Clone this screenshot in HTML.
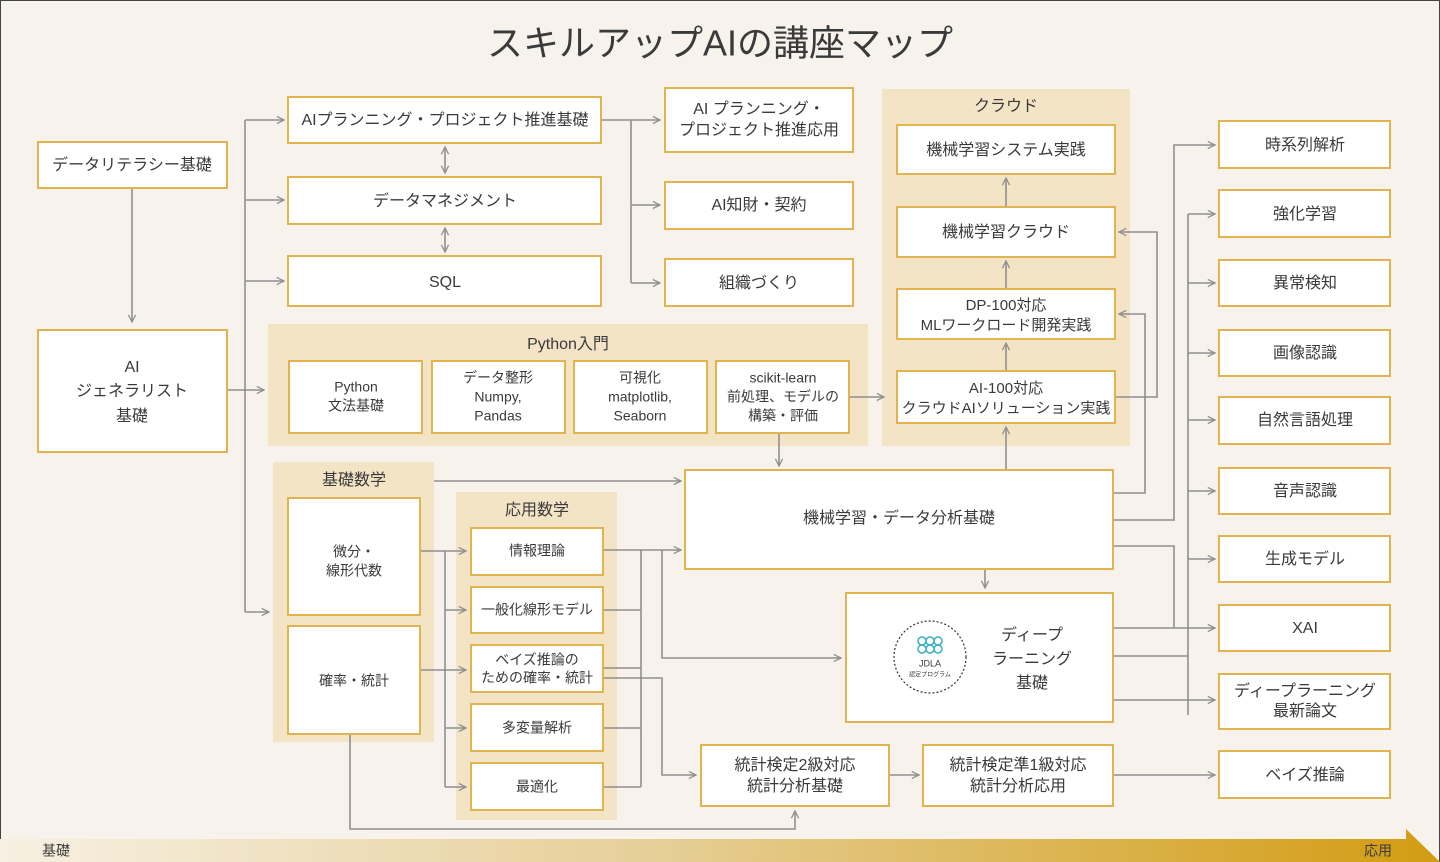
<!DOCTYPE html>
<html><head><meta charset="utf-8"><style>
html,body{margin:0;padding:0;background:#f7f3ec}
svg{display:block}
text{font-family:"Liberation Sans","Noto Sans CJK JP",sans-serif;fill:#3a3a3a;text-anchor:middle;dominant-baseline:middle}
.b{fill:#fff;stroke:#e2b450;stroke-width:2}
.p{fill:#f4e4c6}
.l{fill:none;stroke:#8f8f8f;stroke-width:1.6}
</style></head><body>
<svg width="1440" height="862" viewBox="0 0 1440 862" xmlns="http://www.w3.org/2000/svg">
<defs>
<marker id="m" viewBox="0 0 10 10" refX="9" refY="5" markerWidth="9" markerHeight="9" orient="auto-start-reverse" markerUnits="userSpaceOnUse">
<path d="M1,1 L9,5 L1,9" fill="none" stroke="#8f8f8f" stroke-width="1.4"/></marker>
<linearGradient id="g" x1="0" x2="1"><stop offset="0" stop-color="#f7f0e2"/><stop offset="0.45" stop-color="#e6cf98"/><stop offset="1" stop-color="#d29c12"/></linearGradient>
</defs>
<rect x="0.5" y="0.5" width="1439" height="861" fill="#f7f3ec" stroke="#444" stroke-width="1"/>
<text x="720" y="46" font-size="36" fill="#333">スキルアップAIの講座マップ</text>

<rect class="p" x="268" y="324" width="600" height="122"/>
<rect class="p" x="882" y="89" width="248" height="357"/>
<rect class="p" x="273" y="462" width="161" height="280"/>
<rect class="p" x="456" y="492" width="161" height="328"/>
<text x="568" y="345" font-size="16">Python入門</text>
<text x="1006" y="107" font-size="16">クラウド</text>
<text x="354" y="481" font-size="16">基礎数学</text>
<text x="537" y="511" font-size="16">応用数学</text>

<g class="l">
<path d="M132,188 V322" marker-end="url(#m)"/>
<path d="M245,120 V612"/>
<path d="M245,120 H284" marker-end="url(#m)"/>
<path d="M245,200 H284" marker-end="url(#m)"/>
<path d="M245,281 H284" marker-end="url(#m)"/>
<path d="M245,612 H269" marker-end="url(#m)"/>
<path d="M227,390 H264" marker-end="url(#m)"/>
<path d="M445,147 V173" marker-start="url(#m)" marker-end="url(#m)"/>
<path d="M445,228 V252" marker-start="url(#m)" marker-end="url(#m)"/>
<path d="M601,120 H660" marker-end="url(#m)"/>
<path d="M631,120 V283"/>
<path d="M631,205 H660" marker-end="url(#m)"/>
<path d="M631,283 H660" marker-end="url(#m)"/>
<path d="M849,397 H884" marker-end="url(#m)"/>
<path d="M779,433 V466" marker-end="url(#m)"/>
<path d="M1006,207 V178" marker-end="url(#m)"/>
<path d="M1006,289 V261" marker-end="url(#m)"/>
<path d="M1006,371 V343" marker-end="url(#m)"/>
<path d="M1006,470 V427" marker-end="url(#m)"/>
<path d="M1115,397 H1157 V232 H1119" marker-end="url(#m)"/>
<path d="M1113,493 H1145 V314 H1119" marker-end="url(#m)"/>
<path d="M434,481 H681" marker-end="url(#m)"/>
<path d="M420,551 H466" marker-end="url(#m)"/>
<path d="M420,670 H466" marker-end="url(#m)"/>
<path d="M445,551 V787"/>
<path d="M445,610 H466" marker-end="url(#m)"/>
<path d="M445,728 H466" marker-end="url(#m)"/>
<path d="M445,787 H466" marker-end="url(#m)"/>
<path d="M603,550 H681" marker-end="url(#m)"/>
<path d="M603,610 H641 M603,668 H641 M603,728 H641 M603,787 H641 M641,550 V787"/>
<path d="M662,550 V658 H841" marker-end="url(#m)"/>
<path d="M603,678 H662 V775 H696" marker-end="url(#m)"/>
<path d="M350,734 V829 H795 V811" marker-end="url(#m)"/>
<path d="M889,775 H919" marker-end="url(#m)"/>
<path d="M1113,775 H1215" marker-end="url(#m)"/>
<path d="M985,569 V588" marker-end="url(#m)"/>
<path d="M1113,520 H1174 V145 H1215" marker-end="url(#m)"/>
<path d="M1113,546 H1174 V628"/>
<path d="M1188,214 V715"/>
<path d="M1188,214 H1215" marker-end="url(#m)"/>
<path d="M1188,283 H1215" marker-end="url(#m)"/>
<path d="M1188,353 H1215" marker-end="url(#m)"/>
<path d="M1188,420 H1215" marker-end="url(#m)"/>
<path d="M1188,491 H1215" marker-end="url(#m)"/>
<path d="M1188,559 H1215" marker-end="url(#m)"/>
<path d="M1113,628 H1215" marker-end="url(#m)"/>
<path d="M1113,656 H1188"/>
<path d="M1113,700 H1215" marker-end="url(#m)"/>
</g>

<g font-size="16">
<rect class="b" x="38" y="142" width="189" height="46"/><text x="132" y="166">データリテラシー基礎</text>
<rect class="b" x="38" y="330" width="189" height="122"/><text x="132" y="368">AI</text><text x="132" y="392">ジェネラリスト</text><text x="132" y="417">基礎</text>
<rect class="b" x="288" y="97" width="313" height="46"/><text x="445" y="121">AIプランニング・プロジェクト推進基礎</text>
<rect class="b" x="288" y="177" width="313" height="47"/><text x="445" y="202">データマネジメント</text>
<rect class="b" x="288" y="256" width="313" height="50"/><text x="445" y="283">SQL</text>
<rect class="b" x="665" y="88" width="188" height="64"/><text x="759" y="110">AI プランニング・</text><text x="759" y="131">プロジェクト推進応用</text>
<rect class="b" x="665" y="182" width="188" height="47"/><text x="759" y="206">AI知財・契約</text>
<rect class="b" x="665" y="259" width="188" height="47"/><text x="759" y="284">組織づくり</text>
</g>
<g font-size="14">
<rect class="b" x="289" y="361" width="133" height="72"/><text x="356" y="388">Python</text><text x="356" y="407">文法基礎</text>
<rect class="b" x="432" y="361" width="133" height="72"/><text x="498" y="379">データ整形</text><text x="498" y="398">Numpy,</text><text x="498" y="417">Pandas</text>
<rect class="b" x="574" y="361" width="133" height="72"/><text x="640" y="379">可視化</text><text x="640" y="398">matplotlib,</text><text x="640" y="417">Seaborn</text>
<rect class="b" x="716" y="361" width="133" height="72"/><text x="783" y="379">scikit-learn</text><text x="783" y="398">前処理、モデルの</text><text x="783" y="417">構築・評価</text>
</g>
<g font-size="16">
<rect class="b" x="897" y="125" width="218" height="49"/><text x="1006" y="151">機械学習システム実践</text>
<rect class="b" x="897" y="207" width="218" height="50"/><text x="1006" y="233">機械学習クラウド</text>
<rect class="b" x="897" y="289" width="218" height="50"/><text x="1006" y="306" font-size="15">DP-100対応</text><text x="1006" y="326" font-size="15">MLワークロード開発実践</text>
<rect class="b" x="897" y="371" width="218" height="52"/><text x="1006" y="389" font-size="15">AI-100対応</text><text x="1006" y="409" font-size="15">クラウドAIソリューション実践</text>
<rect class="b" x="685" y="470" width="428" height="99"/><text x="899" y="519">機械学習・データ分析基礎</text>
</g>
<g font-size="14">
<rect class="b" x="288" y="498" width="132" height="117"/><text x="354" y="553">微分・</text><text x="354" y="572">線形代数</text>
<rect class="b" x="288" y="626" width="132" height="108"/><text x="354" y="682">確率・統計</text>
<rect class="b" x="471" y="528" width="132" height="47"/><text x="537" y="552">情報理論</text>
<rect class="b" x="471" y="587" width="132" height="46"/><text x="537" y="611">一般化線形モデル</text>
<rect class="b" x="471" y="645" width="132" height="47"/><text x="537" y="661">ベイズ推論の</text><text x="537" y="679">ための確率・統計</text>
<rect class="b" x="471" y="704" width="132" height="47"/><text x="537" y="729">多変量解析</text>
<rect class="b" x="471" y="763" width="132" height="47"/><text x="537" y="788">最適化</text>
</g>
<g font-size="16">
<rect class="b" x="846" y="593" width="267" height="129"/>
<text x="1032" y="636">ディープ</text><text x="1032" y="660">ラーニング</text><text x="1032" y="684">基礎</text>
<circle cx="930" cy="657" r="36" fill="none" stroke="#333" stroke-width="1.2" stroke-dasharray="2 2"/>
<g fill="none" stroke="#3ab0c0" stroke-width="1.5"><circle cx="922" cy="641" r="4"/><circle cx="930" cy="641" r="4"/><circle cx="938" cy="641" r="4"/><circle cx="922" cy="649" r="4"/><circle cx="930" cy="649" r="4"/><circle cx="938" cy="649" r="4"/></g>
<text x="930" y="664" font-size="9" fill="#333">JDLA</text><text x="930" y="675" font-size="6" fill="#333">認定プログラム</text>
<rect class="b" x="701" y="745" width="188" height="61"/><text x="795" y="766">統計検定2級対応</text><text x="795" y="787">統計分析基礎</text>
<rect class="b" x="923" y="745" width="190" height="61"/><text x="1018" y="766">統計検定準1級対応</text><text x="1018" y="787">統計分析応用</text>
<rect class="b" x="1219" y="121" width="171" height="47"/><text x="1305" y="146">時系列解析</text>
<rect class="b" x="1219" y="190" width="171" height="47"/><text x="1305" y="215">強化学習</text>
<rect class="b" x="1219" y="260" width="171" height="46"/><text x="1305" y="284">異常検知</text>
<rect class="b" x="1219" y="330" width="171" height="46"/><text x="1305" y="354">画像認識</text>
<rect class="b" x="1219" y="397" width="171" height="47"/><text x="1305" y="421">自然言語処理</text>
<rect class="b" x="1219" y="468" width="171" height="46"/><text x="1305" y="492">音声認識</text>
<rect class="b" x="1219" y="536" width="171" height="46"/><text x="1305" y="560">生成モデル</text>
<rect class="b" x="1219" y="605" width="171" height="46"/><text x="1305" y="629">XAI</text>
<rect class="b" x="1219" y="674" width="171" height="55"/><text x="1305" y="692">ディープラーニング</text><text x="1305" y="712">最新論文</text>
<rect class="b" x="1219" y="751" width="171" height="47"/><text x="1305" y="776">ベイズ推論</text>
</g>

<polygon points="0,839 1406,839 1406,829 1440,862 0,862" fill="url(#g)"/>
<text x="56" y="852" font-size="14" fill="#d4a53a">基礎</text>
<text x="1378" y="852" font-size="14" fill="#fff">応用</text>
</svg>
</body></html>
